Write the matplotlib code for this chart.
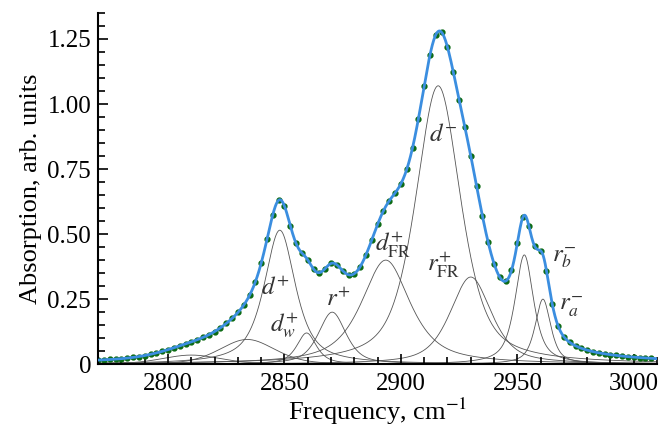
import numpy as np
import matplotlib
matplotlib.use("Agg")
import matplotlib.pyplot as plt
from matplotlib.ticker import MultipleLocator

plt.rcParams['font.family'] = ['Liberation Serif', 'DejaVu Serif']
plt.rcParams['mathtext.fontset'] = 'stix'

# fitted band components: centre (cm^-1), height, FWHM, lorentz fraction
peakNames = ['', '', '$d^{+}$', '$d^{+}_{w}$', '$r^{+}$', '$d^{+}_{\\rm FR}$',
             '$d^{-}$', '$r^{+}_{\\rm FR}$', '$r^{-}_{b}$', '$r^{-}_{a}$']
peakCenters = [2810, 2834, 2848, 2859.5, 2870.5, 2893.5, 2916, 2930, 2953, 2961]
peakHeights = [0.035, 0.095, 0.515, 0.12, 0.20, 0.40, 1.07, 0.335, 0.42, 0.25]
peakWidths = [30, 28, 16, 10, 14, 25, 23, 21, 9.5, 8]
peakEta = [0.3, 0.3, 0.75, 0.7, 0.6, 0.75, 0.6, 0.6, 0.75, 0.7]

labelX = [2846, 2850, 2873, 2896.5, 2918, 2918.5, 2970, 2973]
labelY = [0.29, 0.15, 0.25, 0.46, 0.88, 0.38, 0.41, 0.22]


def pseudoVoigt(x, c, h, w, eta):
    hw = w / 2.0
    lor = 1.0 / (1.0 + ((x - c) / hw) ** 2)
    gau = np.exp(-np.log(2) * ((x - c) / hw) ** 2)
    return h * (eta * lor + (1 - eta) * gau)


x = np.linspace(2770, 3010, 1200)
xDots = np.arange(2770, 3010, 2.5)

fig = plt.figure(figsize=(6.59, 4.32), dpi=100)
ax = fig.add_axes([0.149, 0.157, 0.848, 0.813])

total = np.zeros_like(x)
totalDots = np.zeros_like(xDots)
for i in range(len(peakCenters)):
    y = pseudoVoigt(x, peakCenters[i], peakHeights[i], peakWidths[i], peakEta[i])
    total += y
    totalDots += pseudoVoigt(xDots, peakCenters[i], peakHeights[i], peakWidths[i], peakEta[i])
    ax.plot(x, y, color='#555555', lw=0.6, zorder=1)

ax.plot(xDots, totalDots, 'o', color='#0b6a12', ms=3.5, zorder=2)
ax.plot(x, total, color='#3b8ee0', lw=2.0, zorder=3)

labels = [n for n in peakNames if n != '']
for i in range(len(labels)):
    ax.text(labelX[i], labelY[i], labels[i], fontsize=18, color='#333333',
            ha='center', va='center', style='italic')

ax.set_xlim(2770, 3010)
ax.set_ylim(0, 1.35)
ax.xaxis.set_major_locator(MultipleLocator(50))
ax.xaxis.set_minor_locator(MultipleLocator(10))
ax.yaxis.set_minor_locator(MultipleLocator(0.05))
ax.set_yticks([0, 0.25, 0.5, 0.75, 1.0, 1.25])
ax.set_yticklabels(['0', '0.25', '0.50', '0.75', '1.00', '1.25'])
ax.tick_params(which='both', direction='in', labelsize=18, width=1.2)
ax.tick_params(which='major', length=7)
ax.tick_params(which='minor', length=5)
ax.tick_params(axis='x', pad=6)
ax.tick_params(axis='y', pad=5)
ax.spines['top'].set_visible(False)
ax.spines['right'].set_visible(False)
ax.spines['left'].set_linewidth(1.5)
ax.spines['bottom'].set_linewidth(1.5)
ax.set_xlabel('Frequency, cm$^{-1}$', fontsize=19, labelpad=1)
ax.set_ylabel('Absorption, arb. units', fontsize=19, labelpad=4)

plt.savefig('out.png', dpi=100)
